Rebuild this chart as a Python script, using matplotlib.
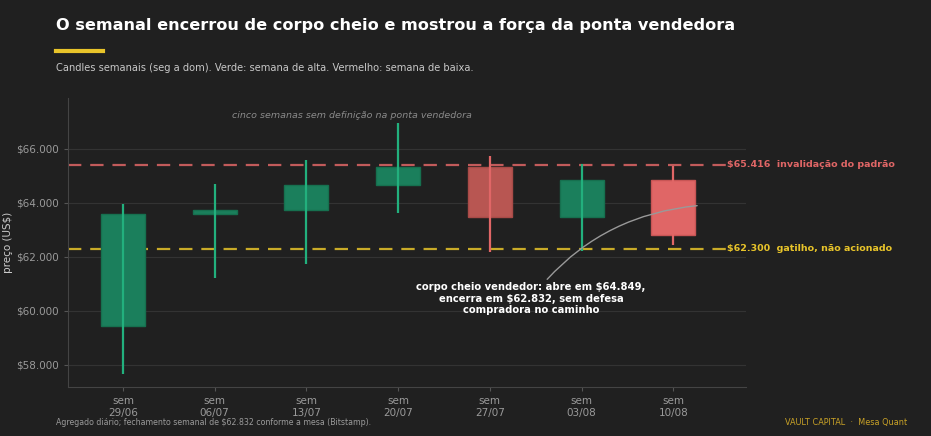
import matplotlib
matplotlib.use("Agg")
import matplotlib.pyplot as plt
from matplotlib.patches import Rectangle

weeks = ["sem\n29/06", "sem\n06/07", "sem\n13/07", "sem\n20/07", "sem\n27/07", "sem\n03/08", "sem\n10/08"]
opens = [59456, 63593, 63740, 64680, 65344, 63481, 64849]
closes = [63593, 63740, 64680, 65344, 63481, 64849, 62832]
highs = [63963, 64689, 65578, 66948, 65741, 65456, 65356]
lows = [57667, 61207, 61726, 63615, 62170, 62233, 62444]
invalidation = 65416
trigger = 62300
yticks = [58000, 60000, 62000, 64000, 66000]
ytick_labels = ["$58.000", "$60.000", "$62.000", "$64.000", "$66.000"]

BG = "#202020"
GREEN_BODY = "#1b7f5c"
GREEN_WICK = "#22b07d"
RED = "#e06666"
RED_DIM = "#b85652"
YELLOW = "#e8c42a"

fig = plt.figure(figsize=(9.31, 4.36), dpi=100, facecolor=BG)
ax = fig.add_axes([0.073, 0.1124, 0.728, 0.663])
ax.set_facecolor(BG)

n = len(opens)
w = 0.48
for i in range(n):
    up = closes[i] >= opens[i]
    if up:
        body, edge, wick = GREEN_BODY, "#16704f", GREEN_WICK
    elif i == n - 1:
        body, edge, wick = RED, "#c85555", RED
    else:
        body, edge, wick = RED_DIM, "#a84a47", RED
    lo = min(opens[i], closes[i])
    hi = max(opens[i], closes[i])
    ax.add_patch(Rectangle((i - w / 2, lo), w, hi - lo, facecolor=body,
                           edgecolor=edge, linewidth=1.0, zorder=3))
    ax.plot([i, i], [lows[i], highs[i]], color=wick, lw=1.6, zorder=4,
            solid_capstyle="butt")

ax.set_xlim(-0.6, 6.79)
ax.set_ylim(57185, 67890)
ax.set_xticks(range(n))
ax.set_xticklabels(weeks)
ax.set_yticks(yticks)
ax.set_yticklabels(ytick_labels)
ax.tick_params(axis="both", colors="#555555", labelcolor="#9a9a9a", labelsize=7.5, length=3)
ax.yaxis.grid(True, color="#333333", lw=0.8, zorder=0)
ax.set_axisbelow(True)
for s in ["top", "right"]:
    ax.spines[s].set_visible(False)
for s in ["left", "bottom"]:
    ax.spines[s].set_color("#444444")
ax.set_ylabel("preço (US$)", color="#cccccc", fontsize=7.5)
ax.yaxis.set_label_coords(-0.081, 0.5)

ax.axhline(invalidation, xmin=0, xmax=0.976, color=RED, lw=1.6, ls=(0, (6, 4)), alpha=0.85, zorder=2)
ax.axhline(trigger, xmin=0, xmax=0.976, color=YELLOW, lw=1.6, ls=(0, (6, 4)), alpha=0.85, zorder=2)
ax.text(0.973, invalidation, f"${invalidation/1000:.3f}  invalidação do padrão",
        transform=ax.get_yaxis_transform(), color=RED, fontsize=6.8, fontweight="bold",
        va="center", ha="left", clip_on=False)
ax.text(0.973, trigger, f"${trigger/1000:.3f}  gatilho, não acionado",
        transform=ax.get_yaxis_transform(), color=YELLOW, fontsize=6.8, fontweight="bold",
        va="center", ha="left", clip_on=False)

ax.text(2.5, 67233, "cinco semanas sem definição na ponta vendedora", color="#8a8a8a",
        fontsize=6.8, style="italic", ha="center", va="center")

ax.annotate("corpo cheio vendedor: abre em $64.849,\nencerra em $62.832, sem defesa\ncompradora no caminho",
            xy=(6.26, 63900), xytext=(4.45, 60455), color="white", fontsize=7.2,
            fontweight="bold", ha="center", va="center", zorder=6,
            arrowprops=dict(arrowstyle="-", color="#999999", lw=1.0,
                            connectionstyle="arc3,rad=-0.22", shrinkA=0, shrinkB=0))

fig.text(0.060, 0.942, "O semanal encerrou de corpo cheio e mostrou a força da ponta vendedora",
         color="white", fontsize=11.6, fontweight="bold", va="center", ha="left")
fig.add_artist(plt.Line2D([0.060, 0.111], [0.883, 0.883], color=YELLOW, lw=3, transform=fig.transFigure))
fig.text(0.060, 0.843, "Candles semanais (seg a dom). Verde: semana de alta. Vermelho: semana de baixa.",
         color="#c8c8c8", fontsize=7.1, va="center", ha="left")
fig.text(0.060, 0.030, "Agregado diário; fechamento semanal de $62.832 conforme a mesa (Bitstamp).",
         color="#9a9a9a", fontsize=5.7, va="center", ha="left")
fig.text(0.975, 0.030, "VAULT CAPITAL  ·  Mesa Quant", color="#c9a227", fontsize=5.9,
         va="center", ha="right")

fig.savefig("out.png", dpi=100, facecolor=BG)
